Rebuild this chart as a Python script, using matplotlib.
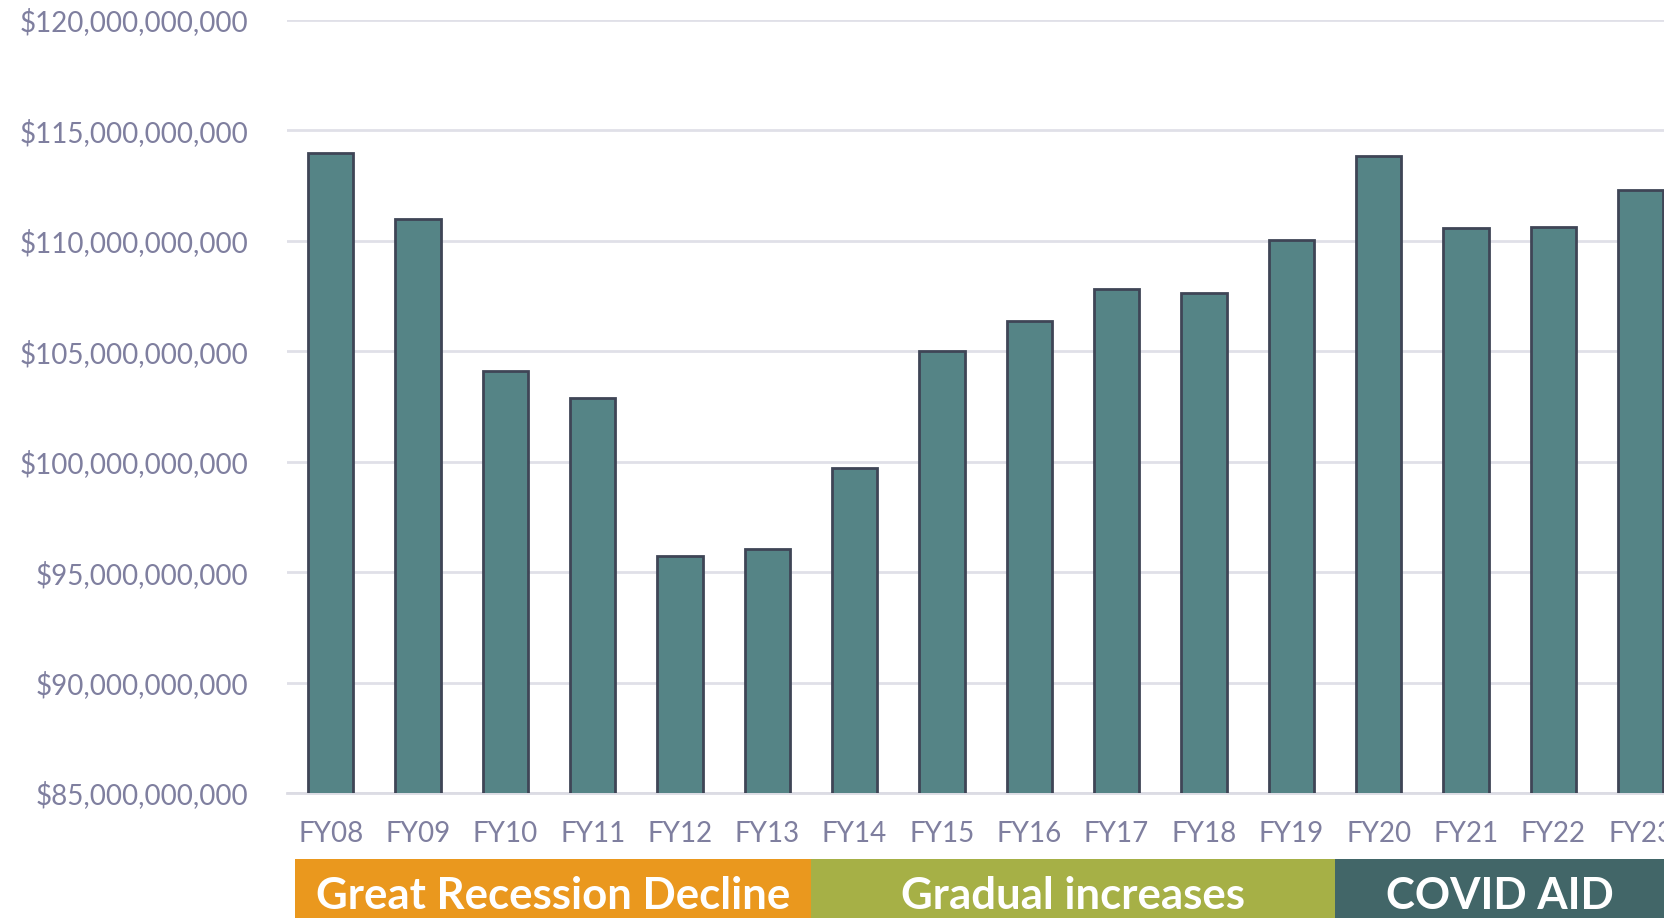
import matplotlib
matplotlib.use("Agg")
import matplotlib.pyplot as plt
from matplotlib.patches import Rectangle
from matplotlib.ticker import FuncFormatter, MultipleLocator
from matplotlib.transforms import blended_transform_factory

# data (billions of dollars)
years = ["FY08", "FY09", "FY10", "FY11", "FY12", "FY13", "FY14", "FY15",
         "FY16", "FY17", "FY18", "FY19", "FY20", "FY21", "FY22", "FY23"]
values = [114.0, 111.0, 104.1, 102.9, 95.75, 96.03, 99.7, 105.0,
          106.35, 107.83, 107.62, 110.02, 113.85, 110.6, 110.65, 112.32]

band_labels = ["Great Recession Decline", "Gradual increases", "COVID AID"]
band_starts = [-0.41, 5.5, 11.5]
band_ends = [5.5, 11.5, 15.28]
band_colors = ["#EA981E", "#A6B046", "#426668"]

plt.rcParams['font.family'] = ['Lato', 'DejaVu Sans']

fig = plt.figure(figsize=(16.65, 9.18), dpi=100)
ax = fig.add_axes([287 / 1665, 125 / 918, 1 - 287 / 1665, (793 - 20) / 918])

x = list(range(len(years)))
ax.bar(x, values, width=0.52, color="#558486", edgecolor="#3F4556",
       linewidth=2, zorder=3)

ax.set_ylim(85, 120)
ax.set_xlim(-0.5, 15.28)
ax.yaxis.set_major_locator(MultipleLocator(5))
ax.yaxis.set_major_formatter(FuncFormatter(lambda v, p: "${:,.0f}".format(v * 1e9)))
ax.grid(axis="y", color="#E0E0E8", linewidth=2, zorder=0)
ax.set_axisbelow(True)
for s in ["top", "right", "left"]:
    ax.spines[s].set_visible(False)
ax.spines["bottom"].set_color("#DCDCE4")
ax.spines["bottom"].set_linewidth(2)

tick_color = "#7F7F9F"
ax.set_xticks(x)
ax.set_xticklabels(years)
ax.tick_params(axis="both", length=0, labelsize=20, labelcolor=tick_color)
ax.tick_params(axis="x", pad=20)
ax.tick_params(axis="y", pad=28)

# period bands under the axis
trans = blended_transform_factory(ax.transData, fig.transFigure)
band_h = (918 - 859) / 918
for lab, a, b, c in zip(band_labels, band_starts, band_ends, band_colors):
    ax.add_patch(Rectangle((a, 0), b - a, band_h, transform=trans,
                           facecolor=c, edgecolor="none", clip_on=False))
    ax.text((a + b) / 2, band_h / 2 - 0.008, lab, transform=trans,
            ha="center", va="center", color="white", fontsize=31.5,
            fontweight="bold")

fig.savefig("out.png", dpi=100)
